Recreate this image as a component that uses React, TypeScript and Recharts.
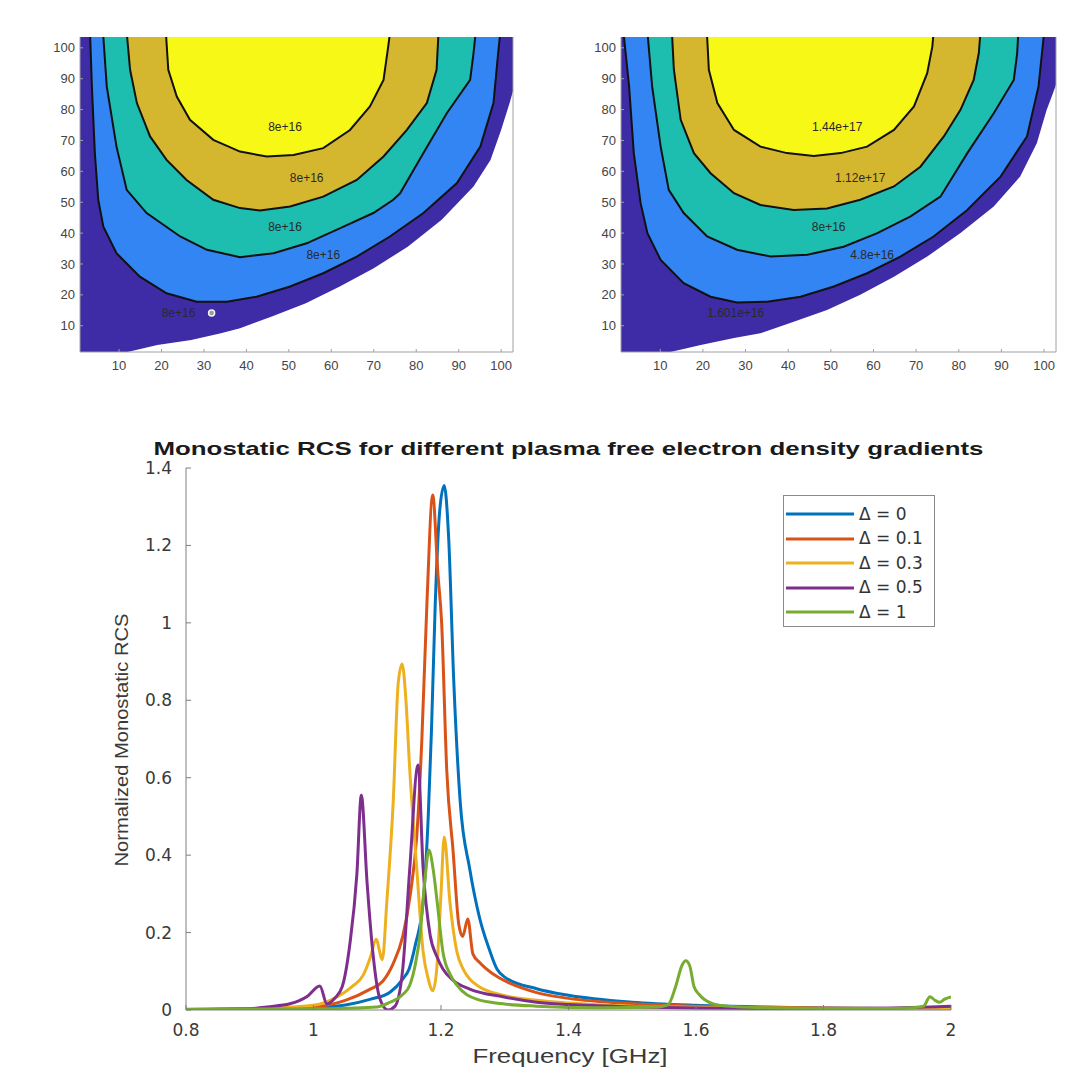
import React from "react";
import {
  ComposedChart,
  LineChart,
  Line,
  Area,
  Scatter,
  XAxis,
  YAxis,
  Legend,
} from "recharts";

const FONT = '"Liberation Sans", Arial, Helvetica, sans-serif';
const WIDE_FONT = '"DejaVu Sans", "Liberation Sans", Arial, sans-serif';

// parula-like fill colours of the contour bands
const C_PURPLE = "#3E2BA6";
const C_BLUE = "#3385F4";
const C_TEAL = "#1DBDB0";
const C_GOLD = "#D5B72F";
const C_YELLOW = "#F8F817";

type Pair = [number, number];

const GRID_TICKS = [10, 20, 30, 40, 50, 60, 70, 80, 90, 100];
const TOP = 103.5;

// ---- left contour map (all labels 8e+16) ----
const whiteEdgeL: Pair[] = [
  [0.8, 1.5], [12, 1.5], [19, 3.8], [27, 5.4], [34, 7.6], [38.5, 9.2], [46, 13],
  [54, 17.3], [62, 22.7], [70, 28.6], [78, 35.6], [86, 44.3], [93.5, 55.1],
  [97.5, 63.7], [100, 73.4], [102, 82.1], [102.8, 86],
];
const contour1L: Pair[] = [
  [3.2, 103.5], [3.6, 87.5], [4.3, 65.9], [5.1, 50.8], [6.3, 42.1], [9.4, 33.5],
  [14.9, 25.9], [21.2, 20.5], [28.3, 17.8], [35.4, 17.8], [42.4, 19.4], [50.3, 22.7],
  [58.1, 27], [66, 32.4], [73.8, 38.9], [81.7, 46.5], [89.6, 56.2], [95.1, 68],
  [98.2, 82.1], [99.3, 98.3], [99.7, 103.5],
];
const contour2L: Pair[] = [
  [6.3, 103.5], [7.1, 87.5], [9.4, 68], [11.8, 54], [16.5, 46.5], [24.4, 38.9],
  [30.7, 34.6], [38.5, 32.2], [46.4, 33.5], [54.2, 36.7], [62.1, 41.6], [69.9, 46.5],
  [74.6, 50.8], [76.2, 52.9], [81.7, 65.9], [87.2, 78.8], [92.7, 89.6], [93.5, 98.3],
  [93.9, 103.5],
];
const contour3L: Pair[] = [
  [11.9, 103.5], [12.6, 92.9], [14.2, 82.1], [17.3, 71.3], [21.2, 63.7], [25.9, 57.2],
  [32.2, 50.8], [38.5, 48.1], [43.2, 47.3], [50.3, 48.6], [58.1, 51.8], [66, 57.2],
  [72.3, 64.8], [77.8, 73.4], [82.5, 82.1], [84.8, 92.9], [85.2, 103.5],
];
const contour4L: Pair[] = [
  [21.1, 103.5], [21.6, 92.9], [23.6, 84.2], [26.7, 76.7], [32.2, 70.2], [38.5, 66.4],
  [44.8, 64.8], [51.1, 65.3], [58.1, 67.5], [64.4, 73.4], [69.1, 81], [72.3, 89.6],
  [73.4, 100.4], [73.7, 103.5],
];
const labelsL = [
  { x: 49.1, y: 74.5, t: "8e+16" },
  { x: 54.2, y: 57.8, t: "8e+16" },
  { x: 49.1, y: 42.1, t: "8e+16" },
  { x: 58.1, y: 33.0, t: "8e+16" },
  { x: 24.0, y: 14.1, t: "8e+16" },
];
const markerL: Pair[] = [[31.8, 14.1]];

// ---- right contour map ----
const whiteEdgeR: Pair[] = [
  [0.8, 1.5], [12.4, 1.5], [19.5, 3.8], [27.3, 6], [33.5, 7.6], [41.3, 11.3],
  [49.1, 15.1], [56.9, 20], [64.8, 25.9], [72.6, 32.4], [80.4, 40], [88.2, 48.6],
  [94.4, 58.3], [98.3, 69.1], [100.6, 79.9], [102, 85], [102.8, 88],
];
const contour1R: Pair[] = [
  [1.5, 103.5], [2.7, 87.5], [3.8, 65.9], [5.4, 49.7], [7, 40], [10.1, 31.3],
  [15.5, 23.8], [21.8, 19.4], [28, 17.5], [35.1, 17.8], [42.9, 19.4], [50.7, 22.7],
  [58.5, 27], [66.3, 32.4], [74.1, 38.9], [82, 47.5], [89.8, 58.3], [96, 71.3],
  [98.7, 87.5], [99.9, 103.5],
];
const contour2R: Pair[] = [
  [7.1, 103.5], [8.1, 87.5], [10.1, 68], [12, 54], [15.5, 46.5], [21, 38.9],
  [28, 34.6], [35.9, 32.4], [44.5, 33], [53, 35.6], [60.9, 40], [68.7, 45.4],
  [75.7, 51.8], [82, 65.9], [88.2, 78.8], [92.9, 89.6], [93.7, 98.3], [93.9, 103.5],
];
const contour3R: Pair[] = [
  [12.8, 103.5], [13.2, 92.9], [14.8, 76.7], [17.9, 65.9], [21.8, 59.4], [27.3, 52.9],
  [33.5, 49.1], [41.3, 47.5], [49.1, 48], [56.9, 50.8], [64.8, 55.1], [71, 61.5],
  [76.5, 71.3], [80.4, 79.9], [83.5, 89.6], [84.7, 98.3], [85, 103.5],
];
const contour4R: Pair[] = [
  [21, 103.5], [21.4, 92.9], [23.4, 82.1], [27.3, 73.4], [33.5, 68], [39.7, 65.9],
  [46, 65], [52.3, 65.9], [58.5, 68], [64.8, 73.4], [69.5, 81], [72.6, 91.8],
  [73.8, 100.4], [74, 103.5],
];
const labelsR = [
  { x: 51.5, y: 74.5, t: "1.44e+17" },
  { x: 56.9, y: 57.8, t: "1.12e+17" },
  { x: 49.5, y: 42.1, t: "8e+16" },
  { x: 59.7, y: 33.0, t: "4.8e+16" },
  { x: 27.7, y: 14.1, t: "1.601e+16" },
];

// ---- monostatic RCS curves: [frequency GHz, normalized RCS] ----
const FREQ_TICKS = [0.8, 1, 1.2, 1.4, 1.6, 1.8, 2];
const RCS_TICKS = [0, 0.2, 0.4, 0.6, 0.8, 1, 1.2, 1.4];

const rcsD0: Pair[] = [
  [0.8, 0.001], [0.9, 0.002], [1.0, 0.006], [1.05, 0.013], [1.09, 0.028], [1.12, 0.046],
  [1.14, 0.08], [1.15, 0.106], [1.16, 0.17], [1.172, 0.28], [1.18, 0.5], [1.185, 0.72],
  [1.191, 1.05], [1.198, 1.29], [1.205, 1.355], [1.212, 1.22], [1.22, 0.85], [1.23, 0.54],
  [1.245, 0.365], [1.261, 0.235], [1.275, 0.16], [1.288, 0.105], [1.3, 0.085],
  [1.35, 0.055], [1.4, 0.038], [1.5, 0.02], [1.6, 0.012], [1.7, 0.008], [1.8, 0.005],
  [1.9, 0.004], [2.0, 0.003],
];
const rcsD01: Pair[] = [
  [0.8, 0.001], [0.9, 0.003], [1.0, 0.008], [1.05, 0.025], [1.089, 0.054], [1.109, 0.075],
  [1.125, 0.12], [1.14, 0.19], [1.152, 0.3], [1.162, 0.45], [1.17, 0.7], [1.178, 1.054],
  [1.187, 1.33], [1.195, 1.13], [1.201, 1.0], [1.209, 0.62], [1.219, 0.41], [1.228, 0.22],
  [1.234, 0.19], [1.242, 0.235], [1.25, 0.145], [1.261, 0.122], [1.28, 0.095],
  [1.297, 0.078], [1.35, 0.045], [1.4, 0.03], [1.5, 0.016], [1.6, 0.01], [1.7, 0.007],
  [1.8, 0.005], [1.9, 0.004], [2.0, 0.003],
];
const rcsD03: Pair[] = [
  [0.8, 0.001], [0.9, 0.003], [0.95, 0.006], [1.0, 0.012], [1.037, 0.034], [1.06, 0.06],
  [1.078, 0.09], [1.09, 0.14], [1.098, 0.183], [1.108, 0.13], [1.115, 0.279],
  [1.125, 0.537], [1.133, 0.847], [1.139, 0.894], [1.145, 0.8], [1.151, 0.62],
  [1.162, 0.365], [1.172, 0.15], [1.18, 0.08], [1.187, 0.05], [1.193, 0.1], [1.2, 0.3],
  [1.205, 0.447], [1.214, 0.279], [1.225, 0.15], [1.235, 0.105], [1.245, 0.08],
  [1.26, 0.06], [1.297, 0.038], [1.35, 0.025], [1.4, 0.018], [1.5, 0.01], [1.6, 0.007],
  [1.8, 0.004], [2.0, 0.002],
];
const rcsD05: Pair[] = [
  [0.8, 0.001], [0.9, 0.003], [0.927, 0.008], [0.963, 0.016], [0.99, 0.035],
  [1.01, 0.062], [1.021, 0.016], [1.033, 0.03], [1.045, 0.06], [1.057, 0.17],
  [1.068, 0.35], [1.075, 0.555], [1.084, 0.33], [1.093, 0.15], [1.104, 0.03],
  [1.117, 0.0], [1.128, 0.01], [1.14, 0.106], [1.151, 0.365], [1.164, 0.633],
  [1.172, 0.365], [1.183, 0.193], [1.193, 0.14], [1.203, 0.106], [1.22, 0.075],
  [1.245, 0.054], [1.297, 0.034], [1.35, 0.02], [1.4, 0.014], [1.5, 0.008], [1.6, 0.005],
  [1.8, 0.003], [2.0, 0.01],
];
const rcsD1: Pair[] = [
  [0.8, 0.002], [1.0, 0.003], [1.1, 0.008], [1.12, 0.02], [1.14, 0.04], [1.151, 0.064],
  [1.16, 0.12], [1.167, 0.193], [1.175, 0.34], [1.181, 0.413], [1.188, 0.36],
  [1.194, 0.279], [1.203, 0.15], [1.215, 0.09], [1.225, 0.064], [1.256, 0.028],
  [1.297, 0.016], [1.35, 0.01], [1.45, 0.006], [1.54, 0.008], [1.556, 0.013],
  [1.568, 0.06], [1.578, 0.115], [1.584, 0.127], [1.59, 0.115], [1.597, 0.06],
  [1.605, 0.04], [1.627, 0.016], [1.65, 0.01], [1.7, 0.006], [1.8, 0.004], [1.9, 0.004],
  [1.94, 0.006], [1.957, 0.01], [1.967, 0.034], [1.975, 0.025], [1.982, 0.02],
  [1.99, 0.028], [2.0, 0.034],
];

const SERIES = [
  { name: "\u0394 = 0", color: "#0072BD", data: rcsD0 },
  { name: "\u0394 = 0.1", color: "#D95319", data: rcsD01 },
  { name: "\u0394 = 0.3", color: "#EDB120", data: rcsD03 },
  { name: "\u0394 = 0.5", color: "#7E2F8E", data: rcsD05 },
  { name: "\u0394 = 1", color: "#77AC30", data: rcsD1 },
];

const toXY = (p: Pair[]) => p.map(([x, y]) => ({ x, y }));
const toFV = (p: Pair[]) => p.map(([f, v]) => ({ f, v }));
const band = (d: { y: number }) => [d.y, TOP];

const smallTick = { fill: "#444", fontSize: 13, fontFamily: FONT };

function renderContourLabel(props: any) {
  const { cx, cy, payload } = props;
  return (
    <text
      x={cx}
      y={cy}
      textAnchor="middle"
      dominantBaseline="central"
      fontSize={12}
      fontFamily={FONT}
      fill="#2a2a2a"
    >
      {payload.t}
    </text>
  );
}

function renderMarker(props: any) {
  const { cx, cy } = props;
  return <circle cx={cx} cy={cy} r={3} fill="#9a9a9a" stroke="#f4f4f4" strokeWidth={1.5} />;
}

interface PanelProps {
  left: number;
  width: number;
  edge: Pair[];
  levels: Pair[][];
  labels: { x: number; y: number; t: string }[];
  marker?: Pair[];
}

function ContourPanel({ left, width, edge, levels, labels, marker }: PanelProps) {
  const fills = [C_BLUE, C_TEAL, C_GOLD, C_YELLOW];
  return (
    <div style={{ position: "absolute", left, top: 0 }}>
      <ComposedChart
        width={width}
        height={382}
        margin={{ top: 37, right: 0, bottom: 0, left: 0 }}
      >
        <XAxis
          dataKey="x"
          type="number"
          domain={[0.8, 102.8]}
          ticks={GRID_TICKS}
          allowDataOverflow
          height={30}
          tickSize={-3}
          tickMargin={12}
          stroke="#a0a0a0"
          tick={smallTick}
        />
        <YAxis
          dataKey="y"
          type="number"
          domain={[1.5, TOP]}
          ticks={GRID_TICKS}
          allowDataOverflow
          width={40}
          tickSize={-3}
          tickMargin={8}
          stroke="#a0a0a0"
          tick={smallTick}
        />
        <YAxis
          yAxisId="r"
          orientation="right"
          type="number"
          domain={[1.5, TOP]}
          ticks={GRID_TICKS}
          width={5}
          tickSize={-3}
          tickFormatter={() => ""}
          stroke="#a0a0a0"
        />
        <Area
          data={toXY(edge)}
          dataKey={band}
          type="linear"
          stroke="none"
          fill={C_PURPLE}
          fillOpacity={1}
          isAnimationActive={false}
        />
        {levels.map((lv, i) => (
          <Area
            key={`band-${i}`}
            data={toXY(lv)}
            dataKey={band}
            type="linear"
            stroke="none"
            fill={fills[i]}
            fillOpacity={1}
            isAnimationActive={false}
          />
        ))}
        {levels.map((lv, i) => (
          <Line
            key={`line-${i}`}
            data={toXY(lv)}
            dataKey="y"
            type="linear"
            stroke="#111"
            strokeWidth={2}
            dot={false}
            isAnimationActive={false}
          />
        ))}
        <Scatter
          data={labels}
          dataKey="y"
          shape={renderContourLabel}
          isAnimationActive={false}
        />
        {marker && (
          <Scatter
            data={toXY(marker)}
            dataKey="y"
            shape={renderMarker}
            isAnimationActive={false}
          />
        )}
      </ComposedChart>
    </div>
  );
}

function renderLegend(props: any) {
  const payload = props.payload || [];
  return (
    <div
      style={{
        width: 152,
        height: 132,
        boxSizing: "border-box",
        border: "1.5px solid #8a8a8a",
        background: "#fff",
        padding: "6px 0 0 2px",
      }}
    >
      {payload.map((p: any) => (
        <div key={p.value} style={{ display: "flex", alignItems: "center", height: 24.5 }}>
          <svg width={68} height={6}>
            <line x1={0} y1={3} x2={68} y2={3} stroke={p.color} strokeWidth={3} />
          </svg>
          <span
            style={{
              marginLeft: 5,
              fontSize: 17,
              fontFamily: WIDE_FONT,
              color: "#333",
              lineHeight: 1,
            }}
          >
            {p.value}
          </span>
        </div>
      ))}
    </div>
  );
}

export default function App() {
  const bigTick = { fill: "#3a3a3a", fontSize: 17, fontFamily: WIDE_FONT };
  return (
    <div
      style={{
        position: "absolute",
        left: 0,
        top: 0,
        width: 1084,
        height: 1077,
        background: "#fff",
        overflow: "hidden",
      }}
    >
      <ContourPanel
        left={40}
        width={478}
        edge={whiteEdgeL}
        levels={[contour1L, contour2L, contour3L, contour4L]}
        labels={labelsL}
        marker={markerL}
      />
      <ContourPanel
        left={581}
        width={480}
        edge={whiteEdgeR}
        levels={[contour1R, contour2R, contour3R, contour4R]}
        labels={labelsR}
      />

      <div style={{ position: "absolute", left: 106, top: 440 }}>
        <LineChart width={865} height={630} margin={{ top: 28, right: 20, bottom: 0, left: 0 }}>
          <XAxis
            dataKey="f"
            type="number"
            domain={[0.8, 2]}
            ticks={FREQ_TICKS}
            allowDataOverflow
            height={60}
            tickSize={-5}
            tickMargin={19}
            stroke="#7f7f7f"
            tick={bigTick}
          />
          <YAxis
            type="number"
            domain={[0, 1.4]}
            ticks={RCS_TICKS}
            allowDataOverflow
            width={80}
            tickSize={-5}
            tickMargin={19}
            stroke="#7f7f7f"
            tick={bigTick}
          />
          <Legend
            layout="vertical"
            align="center"
            verticalAlign="middle"
            content={renderLegend}
            wrapperStyle={{ left: 677, top: 55, width: 152 }}
          />
          {SERIES.map((s) => (
            <Line
              key={s.name}
              name={s.name}
              data={toFV(s.data)}
              dataKey="v"
              type="monotone"
              stroke={s.color}
              strokeWidth={3}
              dot={false}
              isAnimationActive={false}
            />
          ))}
        </LineChart>
      </div>

      <svg
        width={1084}
        height={1077}
        style={{ position: "absolute", left: 0, top: 0, pointerEvents: "none" }}
      >
        <text
          x={568.5}
          y={455}
          textAnchor="middle"
          fontFamily={FONT}
          fontWeight="bold"
          fontSize={19}
          fill="#1a1a1a"
          textLength={830}
          lengthAdjust="spacingAndGlyphs"
        >
          Monostatic RCS for different plasma free electron density gradients
        </text>
        <text
          x={570}
          y={1063}
          textAnchor="middle"
          fontFamily={FONT}
          fontSize={20}
          fill="#3a3a3a"
          textLength={195}
          lengthAdjust="spacingAndGlyphs"
        >
          Frequency [GHz]
        </text>
        <text
          x={0}
          y={0}
          transform="translate(128 740) rotate(-90)"
          textAnchor="middle"
          fontFamily={FONT}
          fontSize={19}
          fill="#3a3a3a"
          textLength={253}
          lengthAdjust="spacingAndGlyphs"
        >
          Normalized Monostatic RCS
        </text>
      </svg>
    </div>
  );
}
